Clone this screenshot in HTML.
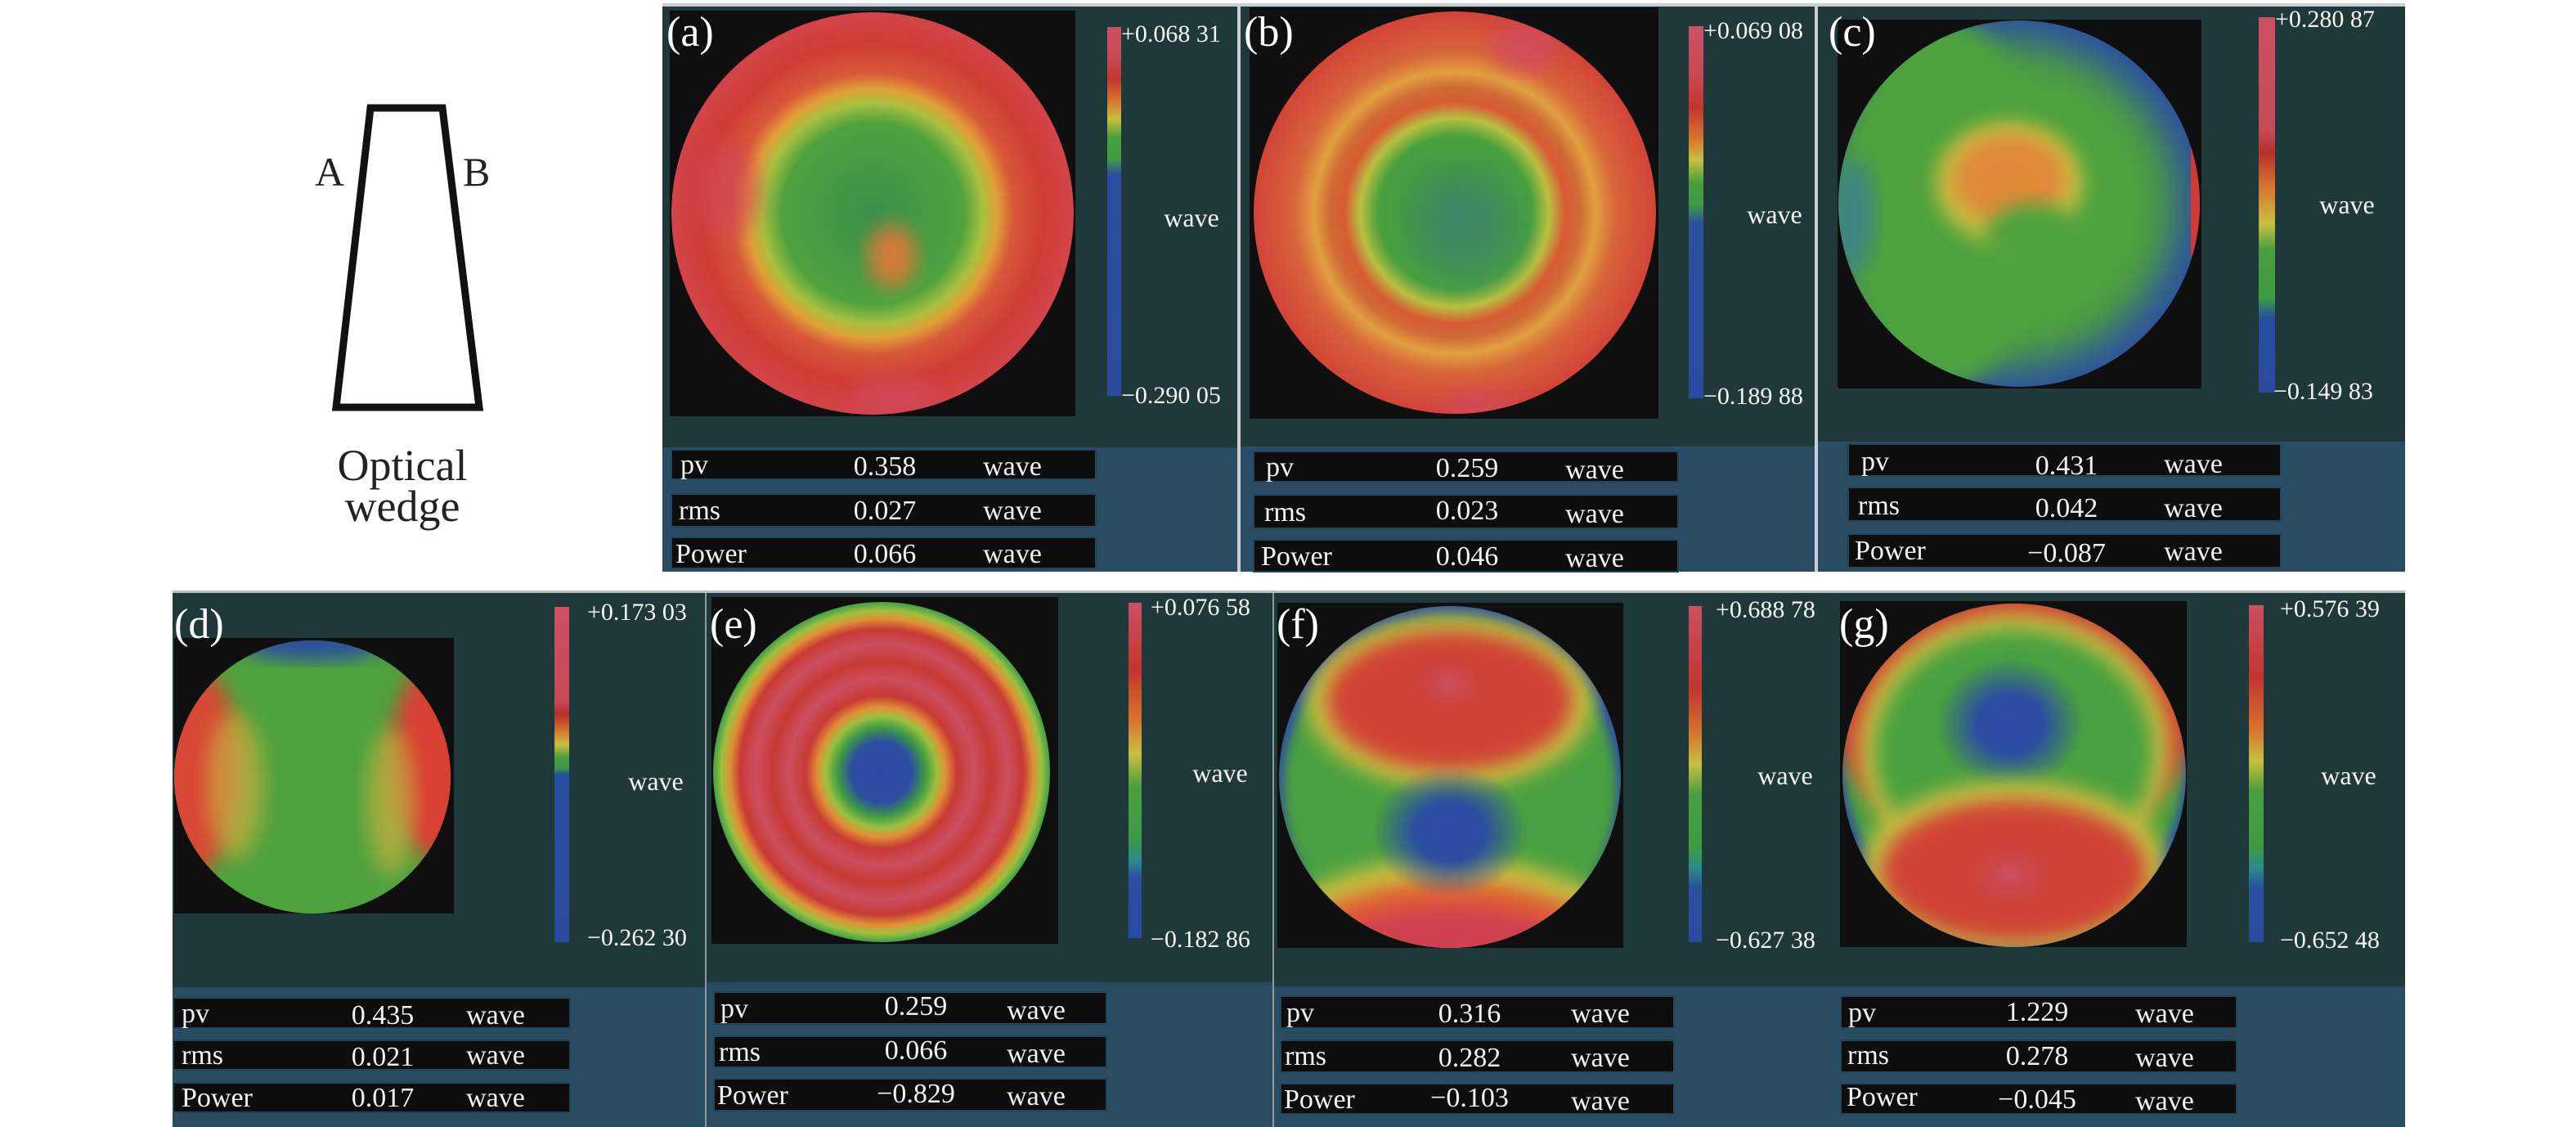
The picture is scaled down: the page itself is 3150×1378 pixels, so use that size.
<!DOCTYPE html>
<html style="overflow:hidden;height:1378px;width:3150px"><head><meta charset="utf-8"><style>
body{margin:0;width:3150px;height:1378px;background:#fff;position:relative;overflow:hidden;font-family:"Liberation Serif","Times New Roman",Times,serif;}
div,span{position:absolute;}
.dk{background:#1f393a;}
.bl{background:#2a4c62;}
.sep{background:#c9cfd4;}
.r{background:#0d0d0d;box-shadow:0 0 0 2px #24445a;}
.t{color:#f2f2f2;font-size:34px;line-height:1;white-space:nowrap;}
.c{transform:translateX(-50%);}
.lb{color:#f5f5f5;font-size:30px;line-height:1;white-space:nowrap;transform:translateY(-50%);}
.w{color:#f5f5f5;font-size:32px;line-height:1;transform:translate(-50%,-50%);}
.L{color:#fff;font-size:52px;line-height:1;}
.blk{background:#0f0f0f;}
svg{position:absolute;}
svg text{font-family:"Liberation Serif","Times New Roman",Times,serif;}
</style></head><body>

<!-- wedge -->
<svg style="left:0;top:0" width="800" height="700">
<polygon points="453,132 541,132 586,498 411,498" fill="#fff" stroke="#111" stroke-width="9" stroke-linejoin="miter"/>
<text x="385" y="227" font-size="50" fill="#222">A</text>
<text x="566" y="227" font-size="50" fill="#222">B</text>
<text x="492" y="587" text-anchor="middle" font-size="54" fill="#222">Optical</text>
<text x="492" y="637" text-anchor="middle" font-size="54" fill="#222">wedge</text>
</svg>

<svg width="0" height="0" style="left:0;top:0"><defs>
<filter id="bl" x="-20%" y="-20%" width="140%" height="140%"><feGaussianBlur stdDeviation="12"/></filter>
<filter id="bl2" x="-20%" y="-20%" width="140%" height="140%"><feGaussianBlur stdDeviation="25"/></filter>
<filter id="bl3" x="-20%" y="-20%" width="140%" height="140%"><feGaussianBlur stdDeviation="7"/></filter>
<radialGradient id="ga"><stop offset="0" stop-color="#3c8f4a"/><stop offset="0.45" stop-color="#4ea23e"/><stop offset="0.55" stop-color="#a8c040"/><stop offset="0.62" stop-color="#e0a038"/><stop offset="0.7" stop-color="#d8583a"/><stop offset="0.85" stop-color="#cf3c34"/><stop offset="1" stop-color="#d2444a"/></radialGradient>
<radialGradient id="gb"><stop offset="0" stop-color="#3e8c55"/><stop offset="0.38" stop-color="#48a03e"/><stop offset="0.47" stop-color="#b8c040"/><stop offset="0.55" stop-color="#d85a34"/><stop offset="0.62" stop-color="#d06a36"/><stop offset="0.7" stop-color="#e0a040"/><stop offset="0.8" stop-color="#d8643a"/><stop offset="1" stop-color="#d24438"/></radialGradient>
<radialGradient id="ge"><stop offset="0" stop-color="#2c48a4"/><stop offset="0.18" stop-color="#2c4ea0"/><stop offset="0.26" stop-color="#3e9a44"/><stop offset="0.33" stop-color="#9ec03e"/><stop offset="0.38" stop-color="#e09038"/><stop offset="0.45" stop-color="#c83a34"/><stop offset="0.55" stop-color="#cc4e60"/><stop offset="0.65" stop-color="#c83a34"/><stop offset="0.75" stop-color="#cc4e60"/><stop offset="0.84" stop-color="#c83a34"/><stop offset="0.9" stop-color="#e09038"/><stop offset="0.95" stop-color="#9ec03e"/><stop offset="1" stop-color="#40a048"/></radialGradient>
<radialGradient id="blue"><stop offset="0" stop-color="#2c48a4"/><stop offset="0.45" stop-color="#2c4ea0"/><stop offset="1" stop-color="#2c4ea0" stop-opacity="0"/></radialGradient>
<radialGradient id="pink"><stop offset="0" stop-color="#cc5066"/><stop offset="1" stop-color="#c83a34" stop-opacity="0"/></radialGradient>
</defs></svg>

<!-- ============ TOP ROW ============ -->
<div class="sep" style="left:810px;top:4px;width:2131px;height:5px"></div>
<!-- a -->
<div class="dk" style="left:810px;top:8px;width:704px;height:539px"></div>
<div class="bl" style="left:810px;top:547px;width:704px;height:152px"></div>
<div class="blk" style="left:819px;top:13px;width:496px;height:496px"></div>
<svg style="left:819px;top:13px" width="496" height="496" viewBox="0 0 496 496">
<defs><clipPath id="cpa"><circle cx="248" cy="248" r="246"/></clipPath></defs>
<g clip-path="url(#cpa)">
<circle cx="248" cy="248" r="246" fill="url(#ga)"/>
<ellipse cx="272" cy="300" rx="30" ry="38" fill="#e07838" filter="url(#bl)" opacity="0.9"/>
<ellipse cx="70" cy="220" rx="40" ry="60" fill="#d2465a" filter="url(#bl)" opacity="0.6"/>
<ellipse cx="275" cy="470" rx="50" ry="25" fill="#d24c60" filter="url(#bl)" opacity="0.7"/>
</g></svg>
<div class="L" style="left:815px;top:14px">(a)</div>
<div style="left:1354px;top:33px;width:17px;height:451px;background:linear-gradient(#cc5064 0%,#c84a58 8%,#c2362e 14%,#d8742e 20%,#c8c040 25%,#4a9e3e 30%,#3e9a44 36%,#2a4ea0 40%,#2a4aa0 100%)"></div>
<span class="lb" style="left:1371px;top:42px">+0.068 31</span>
<span class="lb" style="left:1371px;top:484px">−0.290 05</span>
<span class="w" style="left:1457px;top:266px">wave</span>
<div class="r" style="left:822px;top:551px;width:517px;height:34px"></div>
<div class="r" style="left:822px;top:605px;width:517px;height:38px"></div>
<div class="r" style="left:822px;top:658px;width:517px;height:36px"></div>
<span class="t" style="left:832px;top:552px">pv</span><span class="t c" style="left:1082px;top:554px">0.358</span><span class="t c" style="left:1238px;top:554px">wave</span>
<span class="t" style="left:830px;top:608px">rms</span><span class="t c" style="left:1082px;top:608px">0.027</span><span class="t c" style="left:1238px;top:608px">wave</span>
<span class="t" style="left:826px;top:661px">Power</span><span class="t c" style="left:1082px;top:661px">0.066</span><span class="t c" style="left:1238px;top:661px">wave</span>
<div class="sep" style="left:1513px;top:6px;width:4px;height:693px"></div>

<!-- b -->
<div class="dk" style="left:1517px;top:8px;width:704px;height:538px"></div>
<div class="bl" style="left:1517px;top:546px;width:704px;height:153px"></div>
<div class="blk" style="left:1528px;top:9px;width:500px;height:503px"></div>
<svg style="left:1530px;top:11px" width="498" height="498" viewBox="0 0 498 498">
<defs><clipPath id="cpb"><circle cx="249" cy="249" r="246"/></clipPath></defs>
<g clip-path="url(#cpb)">
<circle cx="249" cy="249" r="246" fill="url(#gb)"/>
<ellipse cx="265" cy="270" rx="60" ry="60" fill="#3c7e7a" filter="url(#bl2)" opacity="0.5"/>
<ellipse cx="335" cy="45" rx="40" ry="30" fill="#d24c62" filter="url(#bl)" opacity="0.8"/>
<ellipse cx="280" cy="485" rx="50" ry="20" fill="#d24c60" filter="url(#bl)" opacity="0.7"/>
</g></svg>
<div class="L" style="left:1521px;top:14px">(b)</div>
<div style="left:2065px;top:32px;width:18px;height:455px;background:linear-gradient(#cc5064 0%,#c84a58 12%,#c2362e 22%,#d8742e 30%,#c8c040 36%,#4a9e3e 42%,#3e9a44 48%,#2a4ea0 53%,#2a4aa0 100%)"></div>
<span class="lb" style="left:2083px;top:38px">+0.069 08</span>
<span class="lb" style="left:2083px;top:485px">−0.189 88</span>
<span class="w" style="left:2170px;top:262px">wave</span>
<div class="r" style="left:1534px;top:553px;width:517px;height:35px"></div>
<div class="r" style="left:1534px;top:606px;width:517px;height:39px"></div>
<div class="r" style="left:1534px;top:661px;width:517px;height:37px"></div>
<span class="t" style="left:1548px;top:555px">pv</span><span class="t c" style="left:1794px;top:556px">0.259</span><span class="t c" style="left:1950px;top:558px">wave</span>
<span class="t" style="left:1546px;top:610px">rms</span><span class="t c" style="left:1794px;top:608px">0.023</span><span class="t c" style="left:1950px;top:612px">wave</span>
<span class="t" style="left:1542px;top:664px">Power</span><span class="t c" style="left:1794px;top:664px">0.046</span><span class="t c" style="left:1950px;top:666px">wave</span>
<div class="sep" style="left:2219px;top:6px;width:4px;height:693px"></div>

<!-- c -->
<div class="dk" style="left:2223px;top:8px;width:718px;height:532px"></div>
<div class="bl" style="left:2223px;top:540px;width:718px;height:159px"></div>
<div class="blk" style="left:2247px;top:24px;width:445px;height:451px"></div>
<svg style="left:2247px;top:24px" width="445" height="451" viewBox="0 0 445 451">
<defs><clipPath id="cpc"><ellipse cx="222" cy="225" rx="221" ry="224"/></clipPath></defs>
<g clip-path="url(#cpc)">
<rect width="445" height="451" fill="#2c4ea0"/>
<ellipse cx="200" cy="225" rx="215" ry="200" fill="#4ea23e" filter="url(#bl2)"/>
<ellipse cx="130" cy="225" rx="120" ry="225" fill="#4ea23e" filter="url(#bl)"/>
<ellipse cx="20" cy="240" rx="25" ry="70" fill="#3a7aa0" filter="url(#bl)" opacity="0.7"/>
<ellipse cx="210" cy="200" rx="90" ry="75" fill="#c8c040" filter="url(#bl)"/>
<ellipse cx="210" cy="195" rx="70" ry="55" fill="#e08a38" filter="url(#bl)"/>
<ellipse cx="240" cy="265" rx="60" ry="40" fill="#4ea23e" filter="url(#bl)"/>
<rect x="432" y="150" width="15" height="140" fill="#d03a34"/>
</g></svg>
<div class="L" style="left:2236px;top:14px">(c)</div>
<div style="left:2762px;top:21px;width:20px;height:459px;background:linear-gradient(#cc5064 0%,#c84a58 30%,#b52e2a 36%,#d8742e 45%,#c8c040 55%,#4a9e3e 62%,#3e9a44 75%,#2a4ea0 80%,#2a4aa0 100%)"></div>
<span class="lb" style="left:2782px;top:24px">+0.280 87</span>
<span class="lb" style="left:2780px;top:479px">−0.149 83</span>
<span class="w" style="left:2870px;top:250px">wave</span>
<div class="r" style="left:2261px;top:544px;width:527px;height:37px"></div>
<div class="r" style="left:2261px;top:597px;width:527px;height:39px"></div>
<div class="r" style="left:2261px;top:654px;width:527px;height:39px"></div>
<span class="t" style="left:2276px;top:548px">pv</span><span class="t c" style="left:2527px;top:553px">0.431</span><span class="t c" style="left:2682px;top:551px">wave</span>
<span class="t" style="left:2272px;top:602px">rms</span><span class="t c" style="left:2527px;top:605px">0.042</span><span class="t c" style="left:2682px;top:605px">wave</span>
<span class="t" style="left:2268px;top:657px">Power</span><span class="t c" style="left:2527px;top:660px">−0.087</span><span class="t c" style="left:2682px;top:658px">wave</span>

<!-- ============ BOTTOM ROW ============ -->
<div class="sep" style="left:211px;top:722px;width:2730px;height:3px;background:#b8c0c6"></div>
<!-- d -->
<div class="dk" style="left:211px;top:725px;width:651px;height:482px"></div>
<div class="bl" style="left:211px;top:1207px;width:651px;height:171px"></div>
<div class="blk" style="left:213px;top:780px;width:342px;height:337px"></div>
<svg style="left:213px;top:780px" width="342" height="337" viewBox="0 0 342 337">
<defs><clipPath id="cpd"><ellipse cx="169" cy="170" rx="169" ry="167"/></clipPath></defs>
<g clip-path="url(#cpd)">
<rect width="342" height="337" fill="#4ea23e"/>
<ellipse cx="20" cy="160" rx="60" ry="130" fill="#d84a34" filter="url(#bl)"/>
<ellipse cx="320" cy="150" rx="55" ry="120" fill="#d84030" filter="url(#bl)"/>
<ellipse cx="75" cy="180" rx="35" ry="90" fill="#c8b040" filter="url(#bl)" opacity="0.7"/>
<ellipse cx="265" cy="200" rx="30" ry="90" fill="#c8b040" filter="url(#bl)" opacity="0.7"/>
<ellipse cx="170" cy="5" rx="90" ry="22" fill="#2c4ea0" filter="url(#bl)"/>
</g></svg>
<div class="L" style="left:213px;top:738px">(d)</div>
<div style="left:678px;top:742px;width:18px;height:410px;background:linear-gradient(#cc5064 0%,#c84a58 28%,#b52e2a 32%,#d8742e 37%,#c8c040 41%,#4a9e3e 45%,#3e9a44 48%,#2a4ea0 50%,#2a4aa0 100%)"></div>
<span class="lb" style="left:718px;top:749px">+0.173 03</span>
<span class="lb" style="left:718px;top:1147px">−0.262 30</span>
<span class="w" style="left:802px;top:955px">wave</span>
<div class="r" style="left:213px;top:1221px;width:483px;height:35px"></div>
<div class="r" style="left:213px;top:1273px;width:483px;height:34px"></div>
<div class="r" style="left:213px;top:1325px;width:483px;height:34px"></div>
<span class="t" style="left:222px;top:1223px">pv</span><span class="t c" style="left:468px;top:1225px">0.435</span><span class="t c" style="left:606px;top:1225px">wave</span>
<span class="t" style="left:222px;top:1274px">rms</span><span class="t c" style="left:468px;top:1276px">0.021</span><span class="t c" style="left:606px;top:1274px">wave</span>
<span class="t" style="left:222px;top:1326px">Power</span><span class="t c" style="left:468px;top:1326px">0.017</span><span class="t c" style="left:606px;top:1326px">wave</span>
<div style="left:862px;top:725px;width:2px;height:653px;background:#8b9aa2"></div>

<!-- e -->
<div class="dk" style="left:864px;top:725px;width:692px;height:476px"></div>
<div class="bl" style="left:864px;top:1201px;width:692px;height:177px"></div>
<div class="blk" style="left:870px;top:730px;width:424px;height:424px"></div>
<svg style="left:870px;top:730px" width="424" height="424" viewBox="0 0 424 424">
<ellipse cx="208" cy="214" rx="206" ry="208" fill="url(#ge)"/>
</svg>
<div class="L" style="left:868px;top:738px">(e)</div>
<div style="left:1380px;top:737px;width:16px;height:410px;background:linear-gradient(#cc5064 0%,#c84a58 5%,#c2362e 20%,#d8742e 35%,#c8c040 45%,#4a9e3e 55%,#3e9a44 70%,#2a8a8a 77%,#2a4ea0 82%,#2a4aa0 100%)"></div>
<span class="lb" style="left:1407px;top:743px">+0.076 58</span>
<span class="lb" style="left:1407px;top:1149px">−0.182 86</span>
<span class="w" style="left:1492px;top:945px">wave</span>
<div class="r" style="left:874px;top:1214px;width:478px;height:37px"></div>
<div class="r" style="left:874px;top:1268px;width:478px;height:36px"></div>
<div class="r" style="left:874px;top:1320px;width:478px;height:37px"></div>
<span class="t" style="left:881px;top:1217px">pv</span><span class="t c" style="left:1120px;top:1214px">0.259</span><span class="t c" style="left:1267px;top:1219px">wave</span>
<span class="t" style="left:879px;top:1270px">rms</span><span class="t c" style="left:1120px;top:1268px">0.066</span><span class="t c" style="left:1267px;top:1272px">wave</span>
<span class="t" style="left:877px;top:1323px">Power</span><span class="t c" style="left:1120px;top:1321px">−0.829</span><span class="t c" style="left:1267px;top:1324px">wave</span>
<div style="left:1556px;top:725px;width:2px;height:653px;background:#8b9aa2"></div>

<!-- f -->
<div class="dk" style="left:1558px;top:725px;width:687px;height:481px"></div>
<div class="bl" style="left:1558px;top:1206px;width:687px;height:172px"></div>
<div class="blk" style="left:1562px;top:737px;width:423px;height:422px"></div>
<svg style="left:1562px;top:737px" width="423" height="422" viewBox="0 0 423 422">
<defs><clipPath id="cpf"><ellipse cx="211" cy="213" rx="209" ry="209"/></clipPath></defs>
<g clip-path="url(#cpf)">
<rect width="423" height="422" fill="#2c4ea0"/>
<ellipse cx="211" cy="228" rx="204" ry="212" fill="#48a040" filter="url(#bl3)"/>
<ellipse cx="211" cy="640" rx="360" ry="330" fill="#c8c040" filter="url(#bl)"/>
<ellipse cx="211" cy="660" rx="350" ry="320" fill="#e06030" filter="url(#bl)"/>
<ellipse cx="211" cy="690" rx="340" ry="320" fill="#d04050" filter="url(#bl)"/>
<ellipse cx="211" cy="122" rx="175" ry="105" fill="#c8c040" filter="url(#bl)"/>
<ellipse cx="211" cy="120" rx="150" ry="85" fill="#d04234" filter="url(#bl)"/>
<ellipse cx="211" cy="100" rx="60" ry="45" fill="url(#pink)"/>
<ellipse cx="211" cy="280" rx="95" ry="80" fill="url(#blue)"/>
</g></svg>
<div class="L" style="left:1561px;top:738px">(f)</div>
<div style="left:2065px;top:741px;width:16px;height:411px;background:linear-gradient(#cc5064 0%,#c84a58 5%,#c2362e 25%,#d8742e 38%,#c8c040 47%,#4a9e3e 56%,#3e9a44 72%,#2a8a8a 78%,#2a4ea0 84%,#2a4aa0 100%)"></div>
<span class="lb" style="left:2098px;top:746px">+0.688 78</span>
<span class="lb" style="left:2098px;top:1150px">−0.627 38</span>
<span class="w" style="left:2183px;top:948px">wave</span>
<div class="r" style="left:1567px;top:1219px;width:479px;height:37px"></div>
<div class="r" style="left:1567px;top:1273px;width:479px;height:37px"></div>
<div class="r" style="left:1567px;top:1326px;width:479px;height:35px"></div>
<span class="t" style="left:1573px;top:1222px">pv</span><span class="t c" style="left:1797px;top:1223px">0.316</span><span class="t c" style="left:1957px;top:1223px">wave</span>
<span class="t" style="left:1571px;top:1275px">rms</span><span class="t c" style="left:1797px;top:1277px">0.282</span><span class="t c" style="left:1957px;top:1277px">wave</span>
<span class="t" style="left:1570px;top:1328px">Power</span><span class="t c" style="left:1797px;top:1326px">−0.103</span><span class="t c" style="left:1957px;top:1330px">wave</span>

<!-- g -->
<div class="dk" style="left:2245px;top:725px;width:696px;height:481px"></div>
<div class="bl" style="left:2245px;top:1206px;width:696px;height:172px"></div>
<div class="blk" style="left:2250px;top:735px;width:424px;height:423px"></div>
<svg style="left:2250px;top:735px" width="424" height="423" viewBox="0 0 424 423">
<defs><clipPath id="cpg"><ellipse cx="213" cy="213" rx="210" ry="210"/></clipPath></defs>
<g clip-path="url(#cpg)">
<rect width="424" height="423" fill="#2c4ea0"/>
<ellipse cx="213" cy="198" rx="208" ry="212" fill="#48a040" filter="url(#bl3)"/>
<ellipse cx="213" cy="120" rx="225" ry="190" fill="#d04234" filter="url(#bl)"/>
<ellipse cx="213" cy="180" rx="190" ry="165" fill="#c8c040" filter="url(#bl)"/>
<ellipse cx="213" cy="185" rx="170" ry="150" fill="#48a040" filter="url(#bl)"/>
<ellipse cx="208" cy="150" rx="90" ry="80" fill="url(#blue)"/>
<ellipse cx="213" cy="325" rx="185" ry="105" fill="#c8c040" filter="url(#bl)"/>
<ellipse cx="213" cy="330" rx="162" ry="86" fill="#d04234" filter="url(#bl)"/>
<ellipse cx="208" cy="335" rx="75" ry="55" fill="url(#pink)"/>
</g></svg>
<div class="L" style="left:2249px;top:738px">(g)</div>
<div style="left:2750px;top:740px;width:18px;height:412px;background:linear-gradient(#cc5064 0%,#c84a58 4%,#c2362e 22%,#d8742e 37%,#c8c040 46%,#4a9e3e 55%,#3e9a44 72%,#2a8a8a 78%,#2a4ea0 84%,#2a4aa0 100%)"></div>
<span class="lb" style="left:2788px;top:745px">+0.576 39</span>
<span class="lb" style="left:2788px;top:1150px">−0.652 48</span>
<span class="w" style="left:2872px;top:948px">wave</span>
<div class="r" style="left:2252px;top:1219px;width:482px;height:37px"></div>
<div class="r" style="left:2252px;top:1273px;width:482px;height:37px"></div>
<div class="r" style="left:2252px;top:1326px;width:482px;height:35px"></div>
<span class="t" style="left:2260px;top:1222px">pv</span><span class="t c" style="left:2491px;top:1221px">1.229</span><span class="t c" style="left:2647px;top:1223px">wave</span>
<span class="t" style="left:2259px;top:1274px">rms</span><span class="t c" style="left:2491px;top:1275px">0.278</span><span class="t c" style="left:2647px;top:1277px">wave</span>
<span class="t" style="left:2258px;top:1325px">Power</span><span class="t c" style="left:2491px;top:1328px">−0.045</span><span class="t c" style="left:2647px;top:1330px">wave</span>

</body></html>
